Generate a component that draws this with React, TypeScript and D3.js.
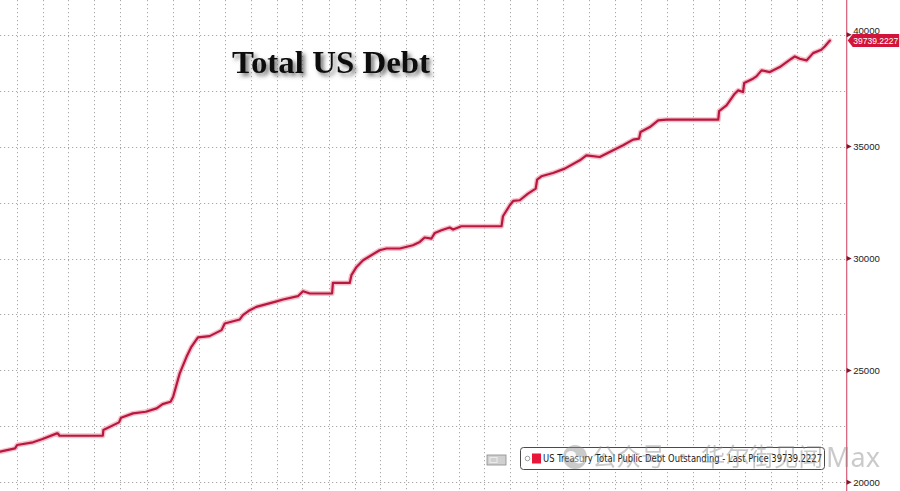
import React from "react";
import * as d3 from "d3";

const W = 900;
const H = 491;

const dates: string[] = [
  "2018-08-04", "2018-09-26", "2018-10-03", "2018-11-28", "2018-12-29", "2019-02-20", "2019-02-23", "2019-03-01",
  "2019-07-31", "2019-08-02", "2019-09-26", "2019-10-03", "2019-11-14", "2019-12-29", "2020-02-05", "2020-02-26",
  "2020-03-25", "2020-04-03", "2020-04-26", "2020-05-20", "2020-06-06", "2020-06-29", "2020-08-09", "2020-09-20",
  "2020-10-01", "2020-11-23", "2020-12-04", "2020-12-28", "2021-01-20", "2021-03-26", "2021-04-24", "2021-06-15",
  "2021-07-03", "2021-07-27", "2021-10-13", "2021-10-16", "2021-12-14", "2021-12-20", "2022-01-07", "2022-01-30",
  "2022-03-29", "2022-04-22", "2022-06-08", "2022-07-24", "2022-08-17", "2022-09-03", "2022-09-27", "2022-10-09",
  "2022-11-01", "2022-11-30", "2022-12-12", "2023-01-10", "2023-05-31", "2023-06-05", "2023-06-29", "2023-07-11",
  "2023-08-03", "2023-09-01", "2023-09-28", "2023-10-03", "2023-10-18", "2023-11-28", "2024-01-08", "2024-03-01",
  "2024-03-24", "2024-05-10", "2024-06-26", "2024-07-31", "2024-09-04", "2024-09-25", "2024-09-30", "2024-11-02",
  "2024-12-01", "2024-12-30", "2025-06-30", "2025-07-03", "2025-07-29", "2025-08-27", "2025-09-08", "2025-09-25",
  "2025-09-29", "2025-10-30", "2025-11-11", "2025-11-29", "2025-12-28", "2026-02-01", "2026-03-14", "2026-03-26",
  "2026-04-12", "2026-05-06", "2026-05-29", "2026-06-27", "2026-07-09", "2026-07-27",
];

const debt: number[] = [
  21366, 21518, 21665, 21786, 21920, 22187, 22190, 22080,
  22080, 22335, 22678, 22884, 23080, 23152, 23303, 23495,
  23598, 23821, 24866, 25607, 26053, 26473, 26531, 26799,
  27098, 27276, 27468, 27691, 27839, 28062, 28169, 28316,
  28540, 28437, 28437, 28910, 28910, 29254, 29624, 29923,
  30370, 30446, 30446, 30593, 30741, 30937, 30892, 31142,
  31263, 31383, 31294, 31441, 31441, 31888, 32379, 32571,
  32602, 32901, 33124, 33526, 33673, 33821, 34015, 34387,
  34610, 34535, 34834, 35057, 35311, 35356, 35651, 35874,
  36173, 36204, 36204, 36588, 36843, 37365, 37512, 37436,
  37838, 38035, 38137, 38405, 38329, 38552, 38927, 39030,
  38927, 38851, 39177, 39329, 39476, 39739,
];

const yTickLabels: number[] = [20000, 25000, 30000, 35000, 40000];
const yGridValues: number[] = [20000, 22500, 25000, 27500, 30000, 32500, 35000, 37500, 40000];

const title = "Total US Debt";
const legendText = "US Treasury Total Public Debt Outstanding - Last Price 39739.2227";
const lastPriceLabel = "39739.2227";
const watermarkCjk = "公众号 · 华尔街见闻";
const watermarkLatin = "Max";

export default function App() {
  const parse = d3.timeParse("%Y-%m-%d");
  const points = dates.map((d, i) => ({ date: parse(d) as Date, value: debt[i] }));

  const axisX = 846.7;
  const x = d3
    .scaleTime()
    .domain([parse("2018-08-04") as Date, parse("2026-09-24") as Date])
    .range([0, axisX]);
  const y = d3.scaleLinear().domain([20000, 40000]).range([482.3, 34.7]);

  const line = d3
    .line<{ date: Date; value: number }>()
    .x((d) => x(d.date))
    .y((d) => y(d.value));
  const path = line(points) || "";

  const vTicks = x.ticks(d3.timeMonth.every(3) as d3.TimeInterval);
  const lastY = y(debt[debt.length - 1]);

  return (
    <div style={{ position: "fixed", left: 0, top: 0, width: W, height: H, background: "#fff" }}>
      <svg width={W} height={H} style={{ display: "block" }}>
        <defs>
          <filter id="shadow" x="-10%" y="-30%" width="130%" height="180%">
            <feDropShadow dx="3" dy="3" stdDeviation="2" floodColor="#444" floodOpacity="0.75" />
          </filter>
        </defs>
        <rect x={0} y={0} width={W} height={H} fill="#fff" />

        {/* grid */}
        <g stroke="#a8a8a8" strokeWidth={1} strokeDasharray="1.2,2.8" fill="none">
          {vTicks.map((t, i) => (
            <line key={"v" + i} x1={Math.round(x(t)) + 0.5} x2={Math.round(x(t)) + 0.5} y1={0} y2={H} />
          ))}
          {yGridValues.map((v, i) => (
            <line key={"h" + i} x1={0} x2={axisX} y1={Math.round(y(v)) + 0.5} y2={Math.round(y(v)) + 0.5} />
          ))}
        </g>

        {/* right axis */}
        <line x1={axisX} x2={axisX} y1={0} y2={H} stroke="#d45a74" strokeWidth={1.2} />
        <g fontFamily="'Liberation Sans', Arial, sans-serif" fontSize={9.6} fill="#222">
          {yTickLabels.map((v, i) => (
            <g key={"t" + i} transform={`translate(${axisX},${y(v)})`}>
              <path d="M0,-2.5 L5,0 L0,2.5 Z" fill="#7a1a2c" />
              <text x={6.5} y={v === 40000 ? -4 : 0} dominantBaseline="central">
                {v}
              </text>
            </g>
          ))}
        </g>

        {/* last price tag */}
        <g transform={`translate(${axisX + 1},${lastY})`}>
          <path d="M0,0 L5,-6.5 L51.5,-6.5 L51.5,6.5 L5,6.5 Z" fill="#d2143a" />
          <text
            x={5.5}
            y={0.5}
            dominantBaseline="central"
            fontFamily="'Liberation Sans', Arial, sans-serif"
            fontSize={9.2}
            fill="#fff"
            textLength={45}
            lengthAdjust="spacingAndGlyphs"
          >
            {lastPriceLabel}
          </text>
        </g>

        {/* series */}
        <path d={path} fill="none" stroke="#f3a9b9" strokeWidth={5} strokeLinejoin="round" strokeLinecap="round" opacity={0.75} />
        <path d={path} fill="none" stroke="#b8183e" strokeWidth={2.2} strokeLinejoin="round" strokeLinecap="round" />

        {/* title */}
        <text
          x={232}
          y={73}
          fontFamily="'Liberation Serif', 'Times New Roman', serif"
          fontWeight="bold"
          fontSize={32}
          fill="#111"
          textLength={198}
          lengthAdjust="spacingAndGlyphs"
          filter="url(#shadow)"
        >
          {title}
        </text>

        {/* small button */}
        <rect x={487} y={455} width={19} height={10} fill="#d0d0d0" stroke="#8a8a8a" strokeWidth={0.8} />
        <rect x={490} y={457.5} width={7} height={5} fill="none" stroke="#f2f2f2" strokeWidth={0.8} />

        {/* legend */}
        <rect x={520.5} y={447.5} width={304} height={22} rx={3} fill="#fff" stroke="#4a4a4a" strokeWidth={1} />
        <circle cx={527.5} cy={458.5} r={2.3} fill="none" stroke="#888" strokeWidth={0.8} />
        <rect x={532} y={453.5} width={9} height={10} fill="#e8173a" />
        <text
          x={543}
          y={462}
          fontFamily="'DejaVu Sans', Verdana, sans-serif"
          fontSize={10}
          fill="#1a1a1a"
          textLength={279}
          lengthAdjust="spacingAndGlyphs"
        >
          {legendText}
        </text>

        {/* watermark */}
        <g opacity={0.45}>
          <circle cx={575} cy={457} r={12} fill="#8c8c8c" />
          <ellipse cx={571} cy={455} rx={5} ry={4} fill="#fff" opacity={0.9} />
          <ellipse cx={579} cy={460} rx={4.5} ry={3.5} fill="#fff" opacity={0.9} />
          <text
            x={592}
            y={466}
            fontFamily="'Noto Sans CJK SC', sans-serif"
            fontSize={25}
            fill="#8c8c8c"
            textLength={231}
            lengthAdjust="spacingAndGlyphs"
          >
            {watermarkCjk}
          </text>
          <text x={826} y={467} fontFamily="'Noto Sans', 'DejaVu Sans', sans-serif" fontSize={27} fill="#8c8c8c">
            {watermarkLatin}
          </text>
        </g>
      </svg>
    </div>
  );
}
